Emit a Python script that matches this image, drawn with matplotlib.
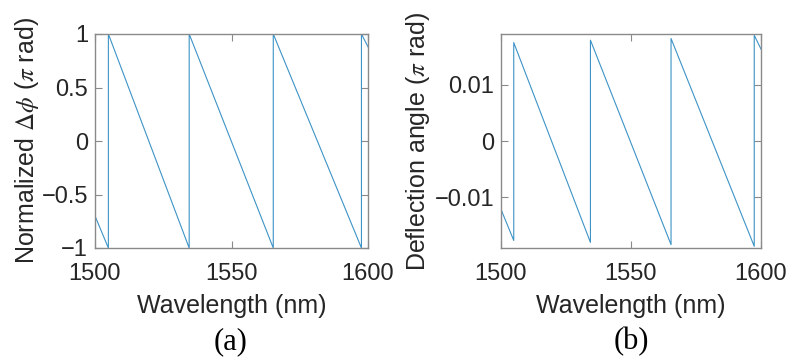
import matplotlib
matplotlib.use("Agg")
import matplotlib.pyplot as plt

plt.rcParams['font.family'] = ['Liberation Sans', 'DejaVu Sans']
plt.rcParams['mathtext.fontset'] = 'stix'

# Panel (a): wrapped normalized phase, vertices of the sawtooth (wavelength nm, value)
wl_a = [1500.0, 1504.9, 1504.9, 1534.5, 1534.5, 1565.3, 1565.3, 1597.6, 1597.6, 1600.0]
phase_a = [-0.70, -1.0, 1.0, -1.0, 1.0, -1.0, 1.0, -1.0, 1.0, 0.88]

# Panel (b): deflection angle (pi rad)
wl_b = [1500.0, 1504.9, 1504.9, 1534.4, 1534.4, 1565.4, 1565.4, 1597.4, 1597.4, 1600.0]
defl_b = [-0.0122, -0.01775, 0.01757, -0.0181, 0.0180, -0.0185, 0.0183, -0.0188, 0.01888, 0.0164]

xticks = [1500, 1550, 1600]
yticks_a = [-1, -0.5, 0, 0.5, 1]
yticklabels_a = ['\u22121', '\u22120.5', '0', '0.5', '1']
yticks_b = [-0.01, 0, 0.01]
yticklabels_b = ['\u22120.01', '0', '0.01']

W, H = 787, 358
fig = plt.figure(figsize=(W / 100, H / 100), dpi=100)

line_color = '#3d93c6'
axis_color = '#8a8a8a'
text_color = '#262626'
fs_tick = 17
fs_lab = 18


def style(ax):
    for s in ax.spines.values():
        s.set_color(axis_color)
        s.set_linewidth(1.0)
    ax.tick_params(direction='in', length=5, width=0.8, colors=axis_color,
                   labelcolor=text_color, labelsize=fs_tick, top=True, right=True)
    ax.tick_params(axis='x', pad=11)
    ax.tick_params(axis='y', pad=5)


ax1 = fig.add_axes([95 / W, 1 - 248 / H, (368 - 95) / W, (248 - 34) / H])
ax1.plot(wl_a, phase_a, color=line_color, lw=0.8)
ax1.set_xlim(1500, 1600)
ax1.set_ylim(-1, 1)
ax1.set_xticks(xticks)
ax1.set_yticks(yticks_a)
ax1.set_yticklabels(yticklabels_a)
style(ax1)
ax1.set_xlabel('Wavelength (nm)', fontsize=fs_lab, color=text_color, labelpad=6)
ax1.set_ylabel(r'Normalized $\Delta\phi$ ($\pi$ rad)', fontsize=fs_lab, color=text_color)
ax1.yaxis.set_label_coords((41 - 95) / 273, 0.5)

ax2 = fig.add_axes([501 / W, 1 - 248 / H, (761 - 501) / W, (248 - 34) / H])
ax2.plot(wl_b, defl_b, color=line_color, lw=0.8)
ax2.set_xlim(1500, 1600)
ax2.set_ylim(-0.0191, 0.0191)
ax2.set_xticks(xticks)
ax2.set_yticks(yticks_b)
ax2.set_yticklabels(yticklabels_b)
style(ax2)
ax2.set_xlabel('Wavelength (nm)', fontsize=fs_lab, color=text_color, labelpad=6)
ax2.set_ylabel(r'Deflection angle ($\pi$ rad)', fontsize=fs_lab, color=text_color)
ax2.yaxis.set_label_coords((432 - 501) / 260, 0.5)

fig.text(231 / W, 1 - 342 / H, '(a)', fontsize=22, family='Liberation Serif',
         ha='center', va='center', color='black')
fig.text(631 / W, 1 - 342 / H, '(b)', fontsize=22, family='Liberation Serif',
         ha='center', va='center', color='black')

fig.savefig('out.png', dpi=100)
